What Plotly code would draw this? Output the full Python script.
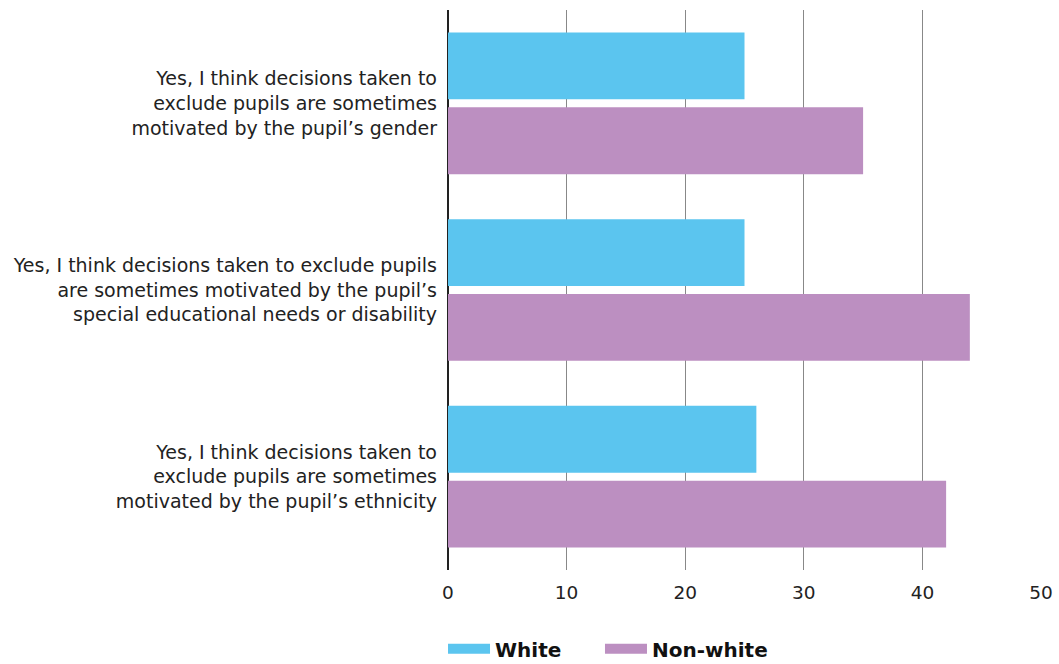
import plotly.graph_objects as go

categories = [
    "Yes, I think decisions taken to<br>exclude pupils are sometimes<br>motivated by the pupil’s gender",
    "Yes, I think decisions taken to exclude pupils<br>are sometimes motivated by the pupil’s<br>special educational needs or disability",
    "Yes, I think decisions taken to<br>exclude pupils are sometimes<br>motivated by the pupil’s ethnicity",
]
white = [25, 25, 26]
non_white = [35, 44, 42]
series_names = ["White", "Non-white"]
colors = ["#5BC5EF", "#BC8FC1"]
x_ticks = [0, 10, 20, 30, 40, 50]

FONT = "DejaVu Sans"

series = list(zip(series_names, [white, non_white], colors))

fig = go.Figure()
# horizontal groups stack bottom-up, so add the lower series first
for name, vals, col in reversed(series):
    fig.add_trace(go.Bar(
        y=categories, x=vals, name=name, orientation="h",
        marker=dict(color=col, line=dict(width=0)),
        showlegend=False,
    ))
# wide rectangular legend swatches, one legend box per series
legend_ids = ["legend", "legend2"]
for (name, vals, col), lid in zip(series, legend_ids):
    fig.add_trace(go.Scatter(
        x=[None], y=[None], mode="lines", name=name, legend=lid,
        line=dict(color=col, width=10),
    ))

legend_style = dict(
    orientation="h", xanchor="left", y=-0.106, yanchor="top",
    font=dict(size=20, weight="bold", color="#111"),
    itemwidth=42, bgcolor="rgba(0,0,0,0)",
)

fig.update_layout(
    width=1059, height=664,
    margin=dict(l=448, r=18, t=10, b=94, autoexpand=False),
    plot_bgcolor="white", paper_bgcolor="white",
    barmode="group", bargap=0.198, bargroupgap=0.107,
    font=dict(family=FONT, size=17, color="#222"),
    xaxis=dict(
        range=[0, 50], tickvals=x_ticks, showgrid=True,
        gridcolor="#888", gridwidth=1.3,
        zeroline=True, zerolinecolor="#222", zerolinewidth=1.5,
        showline=False, ticks="", tickfont=dict(size=18.5, color="#222"),
        ticklabelstandoff=9,
    ),
    yaxis=dict(
        categoryorder="array", categoryarray=categories[::-1],
        showgrid=False, showline=False, ticks="", ticklabelstandoff=10,
        tickfont=dict(size=19, color="#222"),
    ),
    legend=dict(x=-0.0084, **legend_style),
    legend2=dict(x=0.2563, **legend_style),
)

fig.write_html("out.html")
